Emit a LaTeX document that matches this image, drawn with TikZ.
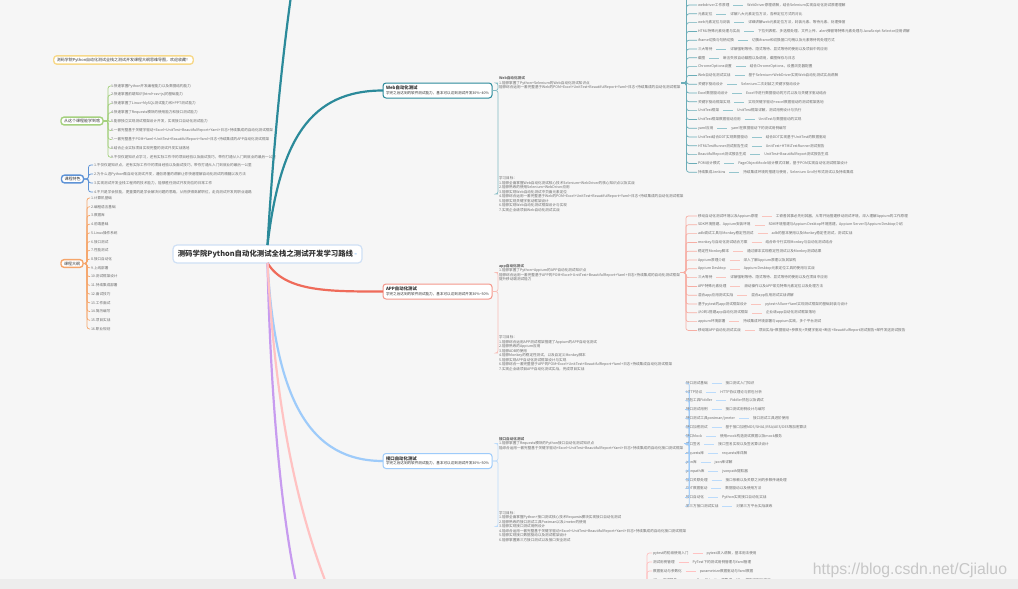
\documentclass[tikz,border=0pt]{standalone}
\usepackage{fontspec}
\setmainfont{Noto Sans CJK SC}
\newfontfamily\wmfont{Liberation Sans}
\usetikzlibrary{positioning}

\definecolor{bg}{HTML}{F6F6F6}
\definecolor{ink}{HTML}{333333}
\definecolor{leafgray}{HTML}{6B6B6B}
\definecolor{teal}{HTML}{2B8A9A}
\definecolor{redb}{HTML}{EF6B5A}
\definecolor{skyb}{HTML}{9ECBFA}
\definecolor{purp}{HTML}{C79BEF}
\definecolor{pinkb}{HTML}{FFC2C2}
\definecolor{greenb}{HTML}{A5D17F}
\definecolor{blueb}{HTML}{5E93D6}
\definecolor{orangeb}{HTML}{F5A56A}
\definecolor{yellowb}{HTML}{F7D98B}
\definecolor{rootline}{HTML}{CFE0F5}

\newcommand\leaffont{\fontsize{1.8}{2.25}\selectfont}
\newcommand\topicfont{\fontsize{2}{2.6}\selectfont}
\newcommand\titlefont{\fontsize{2.2}{2.8}\selectfont\bfseries}

\begin{document}
\begin{tikzpicture}[
    x=0.5pt, y=-0.5pt,
    every node/.style={inner sep=0.5pt, outer sep=0pt, text=ink},
    topic/.style={draw, fill=white, rounded corners=1.5pt, line width=0.5pt, align=left, font=\leaffont, inner xsep=1.5pt, inner ysep=1.2pt, anchor=west, minimum width=52.5pt, minimum height=7.5pt},
    float/.style={draw, fill=white, rounded corners=1.5pt, line width=0.7pt, font=\topicfont, inner xsep=1.5pt, inner ysep=1pt},
    sub/.style={anchor=west, align=left, font=\leaffont, text=leafgray},
    item/.style={anchor=west, font=\leaffont, text=leafgray},
    link/.style={rounded corners=1.2pt, line width=0.35pt},
    trunk/.style={line width=1.1pt}
]
\useasboundingbox (0,0) rectangle (1018,589);
\clip (0,0) rectangle (1018,589);
\fill[bg] (0,0) rectangle (1018,589);

\node[draw=rootline, fill=white, rounded corners=2pt, line width=0.6pt, minimum width=94.5pt, minimum height=9pt, inner xsep=1pt, font=\fontsize{3.7}{4.4}\selectfont\bfseries] (root) at (267.5,254) {测码学院Python自动化测试全栈之测试开发学习路线\,\textcolor{skyb}{-}};

\node[float, draw=yellowb] (note) at (123.5,60) {测码学院Python自动化测试全栈之测试开发课程大纲思维导图，欢迎收藏！};
\node[float, draw=greenb] (learn) at (82,121) {从这个课程能学到啥};
\node[float, draw=blueb] (feature) at (72.5,179) {课程特色};
\node[float, draw=orangeb] (outline) at (72,263.5) {课程大纲};

\foreach \i/\t in {1/{1.快速掌握Python开发编程能力以及数据结构能力},
    2/{2.快速掌握前端知识(html+css+js)的基础能力},
    3/{3.快速掌握了Linux+MySQL测试能力和+PPT测试能力},
    4/{4.快速掌握了Requests模块的使用能力和接口测试能力},
    5/{5.能够独立实现测试框架设计开发，实现接口自动化测试能力},
    6/{6.一套完整基于关键字驱动+Excel+UnitTest+BeautifulReport+Yaml+日志+持续集成的自动化测试框架},
    7/{7.一套完整基于POM+Yaml+UnitTest+BeautifulReport+Yaml+日志+持续集成的APP自动化测试框架},
    8/{8.结合企业实际项目实现完整的测试开发实战落地},
    9/{9.不仅仅是知识点学习，还有实际工作中的项目经验以及面试技巧，带你打通从入门到就业的最后一公里}} {
    \node[item] (g\i) at (110,{86+8.9*(\i-1)}) {\t};
    \draw[link, greenb] (learn.east) -- ++(5,0) |- (g\i.west);
}

\foreach \i/\t in {1/{1.不仅仅是知识点，还有实际工作中的项目经验以及面试技巧，带你打通从入门到就业的最后一公里},
    2/{2.为什么选Python做自动化测试开发，通俗易懂的讲解让你快速理解自动化测试的精髓以及方法},
    3/{3.实现测试开发全栈工程师的技术能力，能够胜任测试开发岗位的日常工作},
    4/{4.不只是学会技能，更重要的是学会解决问题的思路，从而获得高薪职位，走向测试开发的职业道路}} {
    \node[item] (f\i) at (93,{165+9*(\i-1)}) {\t};
    \draw[link, blueb] (feature.east) -- ++(5,0) |- (f\i.west);
}

\foreach \i/\t in {1/{1.计算机基础}, 2/{2.编程语言基础}, 3/{3.数据库}, 4/{4.前端基础},
    5/{5.Linux操作系统}, 6/{6.接口测试}, 7/{7.性能测试}, 8/{8.接口自动化},
    9/{9.上线部署}, 10/{10.测试框架设计}, 11/{11.持续集成部署}, 12/{12.面试技巧},
    13/{13.工作面试}, 14/{14.简历编写}, 15/{15.项目实战}, 16/{16.职业规划}} {
    \node[item] (o\i) at (90,{198+8.73*(\i-1)}) {\t};
    \draw[link, orangeb] (outline.east) -- ++(4,0) |- (o\i.west);
}

\node[topic, draw=teal] (web) at (383,90.5) {{\titlefont Web自动化测试}\\学完之后达到的软件测试能力，基本可以达到测试开发30\%\textasciitilde40\%};
\node[topic, draw=redb!70] (app) at (383,291.5) {{\titlefont APP自动化测试}\\学完之后达到的软件测试能力，基本可以达到测试开发30\%\textasciitilde50\%};
\node[topic, draw=skyb] (api) at (383,461) {{\titlefont 接口自动化测试}\\学完之后达到的软件测试能力，基本可以达到测试开发30\%\textasciitilde50\%};

\coordinate (tealtop) at (291,-4);
\coordinate (purpend) at (299,595);
\coordinate (pinkend) at (332,598);
\draw[trunk, teal] (root.north) .. controls (273,150) and (282,60) .. (tealtop);
\draw[trunk, teal] (root.north) .. controls (280,140) and (310,90.5) .. (web.west);
\draw[trunk, redb] (root.south) .. controls (285,292) and (330,291.5) .. (app.west);
\draw[trunk, skyb] (root.south) .. controls (275,400) and (310,461) .. (api.west);
\draw[trunk, purp] (root.south) .. controls (271,420) and (285,540) .. (purpend);
\draw[trunk, pinkb] (root.south) .. controls (276,420) and (300,520) .. (pinkend);

\node[sub] (w1) at (498,83) {\textbf{Web自动化测试}\\1.能够掌握了Python+Selenium的Web自动化测试知识点\\能够综合运用一套完整基于Web的POM+Excel+UnitTest+BeautifulReport+Yaml+日志+持续集成的自动化测试框架};
\node[sub] (w2) at (498,194) {学习目标：\\1.能够全面掌握Web自动化测试核心技术Selenium+WebDriver的核心知识点以及实战\\2.能够熟练的使用Selenium+WebDriver应用\\3.能够实现Web自动化测试中页面元素定位\\4.能够综合运用一套完整基于Web的POM+Excel+UnitTest+BeautifulReport+Yaml+日志+持续集成的自动化测试框架\\5.能够实现关键字驱动框架设计\\6.能够实现Web自动化测试框架设计与实现\\7.实现企业级项目Web自动化测试实战};
\draw[link, teal!60] (web.east) -- ++(6,0) |- (w1.west);
\draw[link, teal!60] (web.east) -- ++(6,0) |- (w2.west);

\node[sub] (a1) at (498,272.5) {\textbf{app自动化测试}\\1.能够掌握了Python+Appium的APP自动化测试知识点\\能够综合运用一套完整基于APP的POM+Excel+UnitTest+BeautifulReport+Yaml+日志+持续集成的自动化测试框架\\提升移动端测试能力};
\node[sub] (a2) at (498,353) {学习目标：\\1.能够综合运用APP测试框架搭建了Appium的APP自动化测试\\2.能够熟练的Appium应用\\3.能够ADB的使用\\4.能够Monkey的稳定性测试，以及自定义Monkey脚本\\5.能够实现APP自动化测试框架设计与实现\\6.能够综合一套完整基于APP的POM+Excel+UnitTest+BeautifulReport+Yaml+日志+持续集成自动化测试框架\\7.实现企业级项目APP自动化测试实战，完成项目实战};
\draw[link, redb!45] (app.east) -- ++(6,0) |- (a1.west);
\draw[link, redb!45] (app.east) -- ++(6,0) |- (a2.west);

\node[sub] (i1) at (498,443.5) {\textbf{接口自动化测试}\\1.能够掌握了Requests模块的Python接口自动化测试知识点\\能综合运用一套完整基于关键字驱动+Excel+UnitTest+BeautifulReport+Yaml+日志+持续集成的自动化接口测试框架};
\node[sub] (i2) at (498,526.5) {学习目标：\\1.能够全面掌握Python+接口测试核心技术Requests模块实现接口自动化测试\\2.能够熟练的接口测试工具Postman以及Jmeter的使用\\3.能够实现接口测试用例设计\\4.能综合运用一套完整基于关键字驱动+Excel+UnitTest+BeautifulReport+Yaml+日志+持续集成的自动化接口测试框架\\5.能够实现接口数据驱动以及测试框架设计\\6.能够掌握第三方接口测试以及接口安全测试};
\draw[link, skyb!70] (api.east) -- ++(6,0) |- (i1.west);
\draw[link, skyb!70] (api.east) -- ++(6,0) |- (i2.west);

\draw[link, teal!70] (w1.east) -- ++(5,0) coordinate (wspine) -- (wspine |- tealtop);
\foreach \i/\l/\d in {1/{webdriver工作原理}/{WebDriver原理讲解，结合Selenium实现自动化测试原理理解},
    2/{元素定位}/{详解八大元素定位方法，各种定位方式的对比},
    3/{web元素定位与封装}/{详细讲解web元素定位方法，封装元素、等待元素、处理弹窗},
    4/{HTML特殊元素处理与实战}/{下拉列表框、多选框处理、文件上传、alert弹窗等特殊元素处理与JavaScript Selector应用讲解},
    5/{iframe切换与句柄切换}/{切换iframe和切换窗口句柄以及元素等待的处理方式},
    6/{三大等待}/{详解强制等待、隐式等待、显式等待的使用以及项目中的应用},
    7/{截图}/{断言失败自动截图以及调用，截图保存与日志},
    8/{ChromeOptions设置}/{结合ChromeOptions，设置浏览器配置},
    9/{Web自动化测试实战}/{基于Selenium+WebDriver实现Web自动化测试实战讲解},
    10/{关键字驱动设计}/{Selenium二次封装之关键字驱动设计},
    11/{Excel数据驱动设计}/{Excel中进行数据驱动的方式以及与关键字驱动结合},
    12/{关键字驱动框架实现}/{实现关键字驱动+excel数据驱动的测试框架落地},
    13/{UnitTest框架}/{UnitTest框架详解，测试用例设计与执行},
    14/{UnitTest框架数据驱动应用}/{UnitTest与数据驱动的实现},
    15/{yaml应用}/{yaml在数据驱动下的测试用例编写},
    16/{UnitTest结合DDT实现数据驱动}/{结合DDT实现基于UnitTest的数据驱动},
    17/{HTMLTestRunner测试报告生成}/{UnitTest+HTMLTestRunner测试报告},
    18/{BeautifulReport测试报告生成}/{UnitTest+BeautifulReport测试报告生成},
    19/{POM设计模式}/{PageObjectModel设计模式详解，基于POM实现自动化测试框架设计},
    20/{持续集成Jenkins}/{持续集成环境的搭建与使用，Selenium Grid分布式测试以及持续集成}} {
    \node[item] (wl\i) at (697,{-3.8+8.8*\i}) {\l};
    \node[item, right=8pt of wl\i] (wd\i) {\d};
    \draw[teal!50, line width=0.3pt] ([xshift=1.5pt]wl\i.east) -- ([xshift=-1.5pt]wd\i.west);
    \draw[link, teal!70] (w1.east) -- ++(5,0) |- (wl\i.west);
}

\foreach \i/\l/\d in {1/{移动自动化测试环境以及Appium原理}/{工欲善其事必先利其器，从零开始搭建移动测试环境，深入理解Appium的工作原理},
    2/{SDK环境搭建、Appium安装环境}/{SDK环境搭建与Appium Desktop环境搭建，Appium Server与Appium Desktop介绍},
    3/{adb调试工具与Monkey稳定性测试}/{adb的基本使用以及Monkey稳定性测试，测试实战},
    4/{monkey与自动化测试结合方案}/{结合命令行实现Monkey与自动化测试结合},
    5/{稳定性Monkey脚本}/{通过脚本实现稳定性测试以及Monkey测试结果},
    6/{Appium原理介绍}/{深入了解Appium原理以及其架构},
    7/{Appium Desktop}/{Appium Desktop元素定位工具的使用与实战},
    8/{三大等待}/{详解强制等待、隐式等待、显式等待的使用以及在项目中应用},
    9/{APP特殊元素处理}/{滑动操作以及APP常见特殊元素定位以及处理方法},
    10/{混合app应用测试实战}/{混合app应用测试实战讲解},
    11/{基于pytest的app测试框架设计}/{pytest+Allure+Yaml实现测试框架的基础封装与设计},
    12/{从0到1搭建app自动化测试框架}/{企业级app自动化测试框架落地},
    13/{appium环境部署}/{持续集成环境部署与appium实践，多个平台测试},
    14/{移动端APP自动化测试实战}/{项目实战+数据驱动+参数化+关键字驱动+断言+BeautifulReport测试报告+邮件发送测试报告}} {
    \node[item] (al\i) at (697,{216+8.8*(\i-1)}) {\l};
    \node[item, right=8pt of al\i] (ad\i) {\d};
    \draw[redb!40, line width=0.3pt] ([xshift=1.5pt]al\i.east) -- ([xshift=-1.5pt]ad\i.west);
    \draw[link, redb!55] (a1.east) -- ++(5,0) |- (al\i.west);
}

\foreach \i/\l/\d in {1/{接口测试基础}/{接口测试入门知识},
    2/{HTTP协议}/{HTTP协议理论与抓包分析},
    3/{抓包工具Fiddler}/{Fiddler抓包以及调试},
    4/{接口测试用例}/{接口测试用例设计与编写},
    5/{接口测试工具postman/jmeter}/{接口测试工具进阶使用},
    6/{接口加密测试}/{基于接口加密MD5/SHA1/RSA/AES/DES等加密算法},
    7/{接口Mock}/{使用mock构造测试数据以及mock服务},
    8/{接口签名}/{接口签名实现以及签名算法设计},
    9/{requests库}/{requests库详解},
    10/{json库}/{json库详解},
    11/{jsonpath库}/{jsonpath提取器},
    12/{接口关联处理}/{接口依赖以及关联之间的参数传递处理},
    13/{DDT数据驱动}/{数据驱动以及使用方法},
    14/{接口自动化}/{Python实现接口自动化实战},
    15/{第三方接口测试实战}/{对第三方平台实战演练}} {
    \node[item] (pl\i) at (685,{383+8.8*(\i-1)}) {\l};
    \node[item, right=8pt of pl\i] (pd\i) {\d};
    \draw[skyb!70, line width=0.3pt] ([xshift=1.5pt]pl\i.east) -- ([xshift=-1.5pt]pd\i.west);
    \draw[link, skyb] (i1.east) -- ++(5,0) |- (pl\i.west);
}

\coordinate (pinkroot) at (640,620);
\foreach \i/\l/\d in {1/{pytest的初级使用入门}/{pytest深入讲解，基本用法使用},
    2/{测试用例管理}/{PyTest下的测试用例管理与Yaml管理},
    3/{数据驱动与参数化}/{parametrize数据驱动与Yaml数据},
    4/{Allure测试报告}/{allure与Jenkins的集成，Allure报告定制与实战}} {
    \node[item] (yl\i) at (652,{553+9*(\i-1)}) {\l};
    \node[item, right=8pt of yl\i] (yd\i) {\d};
    \draw[pinkb, line width=0.3pt] ([xshift=1.5pt]yl\i.east) -- ([xshift=-1.5pt]yd\i.west);
    \draw[link, pinkb] (pinkroot) -- ++(7,0) |- (yl\i.west);
}

\fill[black!7] (0,579) rectangle (1018,589);
\node[font=\wmfont\fontsize{7.9}{9}\selectfont, text=black!22] (wm) at (910,570) {https://blog.csdn.net/Cjialuo};
\end{tikzpicture}
\end{document}
